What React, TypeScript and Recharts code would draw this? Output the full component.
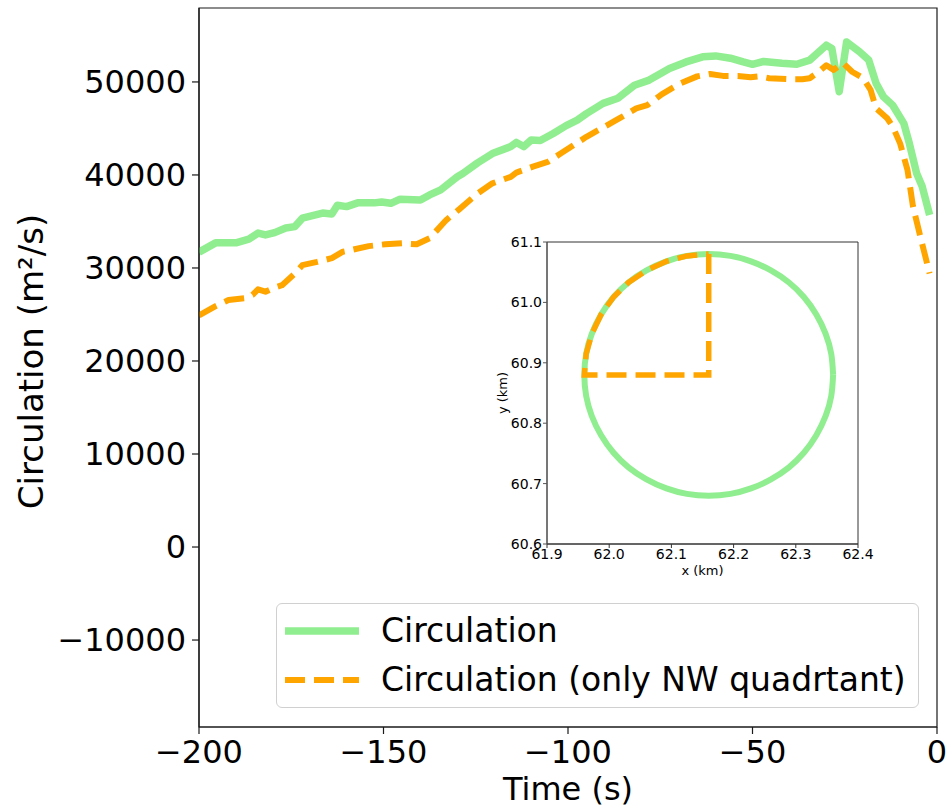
import React from "react";
import { LineChart, Line, XAxis, YAxis, Legend, ReferenceArea } from "recharts";

// main panel: circulation vs time
const fullTime = [
  -200, -195.5, -190, -186.5, -184, -182, -179.5, -176.5, -174, -172, -166.5, -164, -162.5, -160, -157,
  -152.5, -150.5, -148, -145.5, -140, -137.5, -134.5, -130, -128.5, -124.5, -120.5, -115.5, -114, -112,
  -110, -107.5, -104, -100.5, -97.5, -95, -90.5, -86.5, -82, -78, -72.5, -68, -63.5, -60, -56, -52.5,
  -50, -47, -42, -38, -34.5, -30, -28.5, -26.5, -24.5, -21, -18.5, -16.5, -14.5, -12, -9, -7.5, -5.5,
  -4, -2,
];
const fullCirc = [
  31700, 32700, 32700, 33100, 33750, 33550, 33800, 34300, 34450, 35350, 35900, 35800, 36750, 36600, 37000,
  37000, 37100, 36950, 37400, 37300, 37850, 38400, 39800, 40150, 41300, 42300, 43050, 43500, 43050,
  43750, 43700, 44450, 45300, 45900, 46600, 47700, 48250, 49650, 50200, 51450, 52150, 52700, 52800, 52550, 52150,
  51900, 52200, 52000, 51900, 52350, 53950, 53600, 48950, 54300, 53250, 52350, 49850, 48400, 47500, 45550, 43400, 40150,
  38750, 35700,
];

const nwTime = [
  -200, -195.5, -192, -187.5, -185.5, -184, -182, -179.5, -177.5, -174, -172, -168, -164, -161, -158.5,
  -154, -149.5, -145, -141, -137.5, -133, -129.5, -124.5, -120.5, -115.5, -114, -109.5, -105.5, -102,
  -98.5, -95, -90.5, -86, -81.5, -78.5, -74.5, -69.5, -65, -61.5, -58, -54, -50.5, -48, -45.5, -40.5,
  -36.5, -34.5, -32, -30, -28, -25.5, -23, -20, -18, -16.5, -13.5, -12, -10, -8, -6.5, -4.5, -2,
];
const nwCirc = [
  24900, 25900, 26550, 26750, 27100, 27700, 27450, 27900, 28150, 29400, 30300, 30650, 31050, 31750, 31950,
  32350, 32550, 32650, 32550, 33200, 35150, 36300, 38000, 39100, 39800, 40250, 40900, 41400, 42300,
  43200, 44100, 45100, 46100, 47150, 47500, 48700, 49850, 50600, 50850, 50650, 50650, 50500, 50600, 50400, 50300,
  50300, 50400, 51100, 51800, 51300, 52050, 51100, 50400, 49150, 47150, 46100, 45200, 43400, 40550, 36600, 33350, 29400,
];

const timeTicks = [-200, -150, -100, -50, 0];
const circTicks = [-10000, 0, 10000, 20000, 30000, 40000, 50000];

// inset: integration loop (km)
const loopX = [
  62.36, 62.357, 62.348, 62.333, 62.313, 62.289, 62.26, 62.228, 62.195, 62.16, 62.125, 62.092, 62.06,
  62.031, 62.007, 61.987, 61.972, 61.963, 61.96, 61.963, 61.972, 61.987, 62.007, 62.031, 62.06, 62.092,
  62.125, 62.16, 62.195, 62.228, 62.26, 62.289, 62.313, 62.333, 62.348, 62.357, 62.36,
];
const loopY = [
  60.88, 60.915, 60.948, 60.98, 61.009, 61.033, 61.053, 61.068, 61.077, 61.08, 61.077, 61.068, 61.053,
  61.033, 61.009, 60.98, 60.948, 60.915, 60.88, 60.845, 60.812, 60.78, 60.751, 60.727, 60.707, 60.692,
  60.683, 60.68, 60.683, 60.692, 60.707, 60.727, 60.751, 60.78, 60.812, 60.845, 60.88,
];
const quadX = [
  62.16, 62.16, 61.96, 61.963, 61.972, 61.987, 62.007, 62.031, 62.06, 62.092, 62.125, 62.16,
];
const quadY = [
  61.08, 60.88, 60.88, 60.915, 60.948, 60.98, 61.009, 61.033, 61.053, 61.068, 61.077, 61.08,
];
const insetXTicks = [61.9, 62.0, 62.1, 62.2, 62.3, 62.4];
const insetYTicks = [60.6, 60.7, 60.8, 60.9, 61.0, 61.1];

const fullData = fullTime.map((t, i) => ({ t, v: fullCirc[i] }));
const nwData = nwTime.map((t, i) => ({ t, v: nwCirc[i] }));
const loopData = loopX.map((x, i) => ({ x, y: loopY[i] }));
const quadData = quadX.map((x, i) => ({ x, y: quadY[i] }));

const FONT = "'DejaVu Sans', sans-serif";
const GREEN = "#90ee90";
const ORANGE = "#ffa500";
const AXIS = "#1a1a1a";

const minus = (v: number) => (v < 0 ? "\u2212" + Math.abs(v) : String(v));

function LegendBox({ payload }: any) {
  const rows = payload || [];
  return (
    <div
      style={{
        position: "relative",
        width: 643,
        height: 105,
        boxSizing: "border-box",
        border: "1.5px solid #d0d0d0",
        borderRadius: 6,
        background: "rgba(255,255,255,0.8)",
        fontFamily: FONT,
        fontSize: 33,
        color: "#000",
      }}
    >
      {rows.map((entry: any, i: number) => {
        const dash = entry.payload?.strokeDasharray;
        return (
          <div
            key={entry.value}
            style={{ position: "absolute", left: 0, top: 27 + i * 49 - 20, height: 40, display: "flex", alignItems: "center" }}
          >
            <svg width={100} height={40} style={{ display: "block" }}>
              <line
                x1={8}
                x2={82}
                y1={20}
                y2={20}
                stroke={entry.color}
                strokeWidth={dash ? 6 : 7.5}
                strokeDasharray={dash}
              />
            </svg>
            <span style={{ marginLeft: 4, whiteSpace: "nowrap", lineHeight: "40px" }}>{entry.value}</span>
          </div>
        );
      })}
    </div>
  );
}

function Inset() {
  const tick = { fill: "#000", fontSize: 14, fontFamily: FONT };
  return (
    <div style={{ position: "absolute", left: 490, top: 232 }}>
      <LineChart width={400} height={352} margin={{ top: 10, right: 32, bottom: 8, left: 0 }}>
        <XAxis
          type="number"
          dataKey="x"
          domain={[61.9, 62.4]}
          allowDataOverflow
          ticks={insetXTicks}
          tickFormatter={(v) => v.toFixed(1)}
          tick={tick}
          tickSize={4}
          tickMargin={1}
          height={32}
          stroke="#333"
          label={(p: any) => {
            const vb = p.viewBox || {};
            return (
              <text x={vb.x + vb.width / 2} y={vb.y + 26} textAnchor="middle" dominantBaseline="central" fontSize={13} fontFamily={FONT} fill="#000">
                x (km)
              </text>
            );
          }}
        />
        <YAxis
          type="number"
          domain={[60.6, 61.1]}
          allowDataOverflow
          ticks={insetYTicks}
          tickFormatter={(v) => v.toFixed(1)}
          tick={tick}
          tickSize={4}
          tickMargin={1}
          width={57}
          stroke="#555"
          label={(p: any) => {
            const vb = p.viewBox || {};
            const x = vb.x + 12;
            const y = vb.y + vb.height / 2;
            return (
              <text x={x} y={y} transform={`rotate(-90 ${x} ${y})`} textAnchor="middle" dominantBaseline="central" fontSize={13} fontFamily={FONT} fill="#000">
                y (km)
              </text>
            );
          }}
        />
        <ReferenceArea x1={61.9} x2={62.4} y1={60.6} y2={61.1} fill="none" stroke="#333" strokeWidth={1} ifOverflow="visible" />
        <Line
          data={loopData}
          dataKey="y"
          type="natural"
          stroke={GREEN}
          strokeWidth={6}
          dot={false}
          isAnimationActive={false}
        />
        <Line
          data={quadData}
          dataKey="y"
          type="linear"
          stroke={ORANGE}
          strokeWidth={5.5}
          strokeDasharray="20 9"
          dot={false}
          isAnimationActive={false}
        />
      </LineChart>
    </div>
  );
}

export default function App() {
  const tick = { fill: "#000", fontSize: 32, fontFamily: FONT };
  return (
    <div style={{ position: "absolute", left: 0, top: 0, width: 950, height: 810, background: "#fff" }}>
      <LineChart width={950} height={810} margin={{ top: 8, right: 13, bottom: 23, left: 0 }}>
        <XAxis
          type="number"
          dataKey="t"
          domain={[-200, 0]}
          allowDataOverflow
          ticks={timeTicks}
          tickFormatter={minus}
          tick={tick}
          tickSize={7}
          tickMargin={6}
          height={60}
          stroke={AXIS}
          strokeWidth={1.2}
          label={(p: any) => {
            const vb = p.viewBox || {};
            return (
              <text x={vb.x + vb.width / 2} y={vb.y + 62} textAnchor="middle" dominantBaseline="central" fontSize={32} fontFamily={FONT} fill="#000">
                Time (s)
              </text>
            );
          }}
        />
        <YAxis
          type="number"
          domain={[-19350, 57950]}
          allowDataOverflow
          ticks={circTicks}
          tickFormatter={minus}
          tick={tick}
          tickSize={7}
          tickMargin={6}
          width={199}
          stroke={AXIS}
          strokeWidth={1.2}
          label={(p: any) => {
            const vb = p.viewBox || {};
            const x = vb.x + 31;
            const y = vb.y + vb.height / 2 - 6;
            return (
              <text x={x} y={y} transform={`rotate(-90 ${x} ${y})`} textAnchor="middle" dominantBaseline="central" fontSize={34} fontFamily={FONT} fill="#000">
                Circulation (m²/s)
              </text>
            );
          }}
        />
        <ReferenceArea x1={-200} x2={0} y1={-19350} y2={57950} fill="none" stroke={AXIS} strokeWidth={1.2} ifOverflow="visible" />
        <Line
          data={fullData}
          dataKey="v"
          name="Circulation"
          type="linear"
          stroke={GREEN}
          strokeWidth={7.5}
          strokeLinejoin="round"
          dot={false}
          isAnimationActive={false}
        />
        <Line
          data={nwData}
          dataKey="v"
          name="Circulation (only NW quadrtant)"
          type="linear"
          stroke={ORANGE}
          strokeWidth={6}
          strokeDasharray="20 9"
          strokeLinejoin="round"
          dot={false}
          isAnimationActive={false}
        />
        <Legend
          layout="horizontal"
          verticalAlign="middle"
          align="center"
          content={<LegendBox />}
          wrapperStyle={{ left: 276, top: 603, width: 643, height: 105 }}
        />
      </LineChart>
      <Inset />
    </div>
  );
}
